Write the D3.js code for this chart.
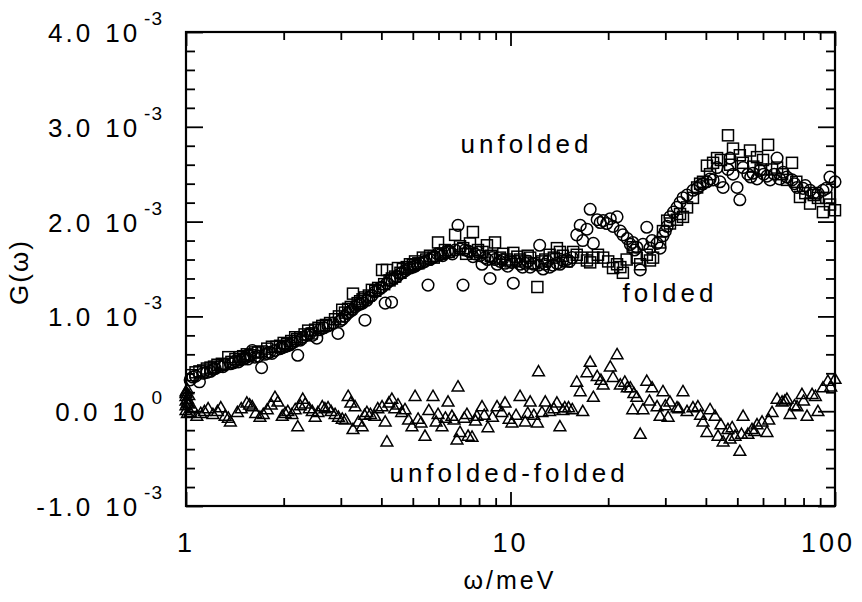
<!DOCTYPE html>
<html>
<head>
<meta charset="utf-8">
<script src="https://cdn.jsdelivr.net/npm/d3@7"></script>
<style>
  html, body { margin: 0; padding: 0; background: #fff; }
  svg { display: block; }
  text { font-family: "Liberation Sans", Arial, sans-serif; fill: #000; }
</style>
</head>
<body>
<svg id="chart" width="862" height="602"></svg>
<script>
// G(omega) values are in units of 1e-3
const unfoldedW = [1.03,1.05,1.10,1.13,1.19,1.23,1.27,1.32,1.37,1.42,1.47,1.52,1.57,1.60,1.63,1.71,1.75,1.81,1.88,1.95,2.02,2.09,2.17,2.21,2.29,2.41,2.53,2.59,2.74,2.94,2.98,3.09,3.20,3.32,3.44,3.56,3.61,3.74,3.91,4.02,4.11,4.16,4.25,4.30,4.47,4.57,4.73,4.90,5.08,5.26,5.45,5.57,5.65,5.85,6.06,6.28,6.51,6.75,6.89,7.14,7.24,7.50,7.77,8.05,8.17,8.34,8.65,8.96,9.28,9.62,10.1,10.2,10.7,11.1,11.5,12.2,12.3,12.8,13.2,13.9,14.5,15.5,16.0,16.4,17.6,18.0,18.9,19.3,20.3,20.7,21.3,21.8,22.2,22.9,23.8,24.5,25.1,25.6,26.3,27.3,28.3,28.9,29.5,30.4,31.0,32.6,34.0,35.0,36.5,37.6,38.4,40.3,42.1,43.3,44.2,45.2,46.8,47.5,49.9,50.9,52.1,53.9,55.9,57.5,58.7,61.7,63.1,66.3,69.2,71.1,73.7,76.4,79.7,83.8,88.6,91.8,96.5,100,
  1.07,1.16,1.21,1.30,1.40,1.45,1.50,1.55,1.67,1.78,1.84,1.98,2.05,2.13,2.25,2.36,2.45,2.66,2.84,3.03,3.14,3.26,3.38,3.50,3.66,3.83,3.96,4.36,4.62,4.80,5.00,5.17,5.37,5.75,5.95,6.18,6.40,6.62,6.99,7.40,7.66,7.94,8.50,8.80,9.10,9.45,9.80,10.4,10.9,11.3,11.8,12.6,13.0,13.5,14.2,14.9,15.2,16.7,17.2,18.5,19.8,23.4,24.1,26.9,30.0,31.8,33.3,39.2,41.2,48.5,55.0,60.3,65.0,67.5,75.0,81.0,86.0,94.0];
const unfoldedG = [0.33,0.36,0.31,0.40,0.42,0.45,0.47,0.49,0.50,0.53,0.54,0.56,0.58,0.64,0.57,0.46,0.60,0.62,0.64,0.66,0.68,0.70,0.74,0.59,0.78,0.82,0.77,0.86,0.90,0.82,0.95,1.00,1.05,1.10,1.13,0.96,1.17,1.22,1.28,1.31,1.14,1.35,1.38,1.15,1.42,1.45,1.48,1.51,1.53,1.56,1.58,1.33,1.60,1.63,1.65,1.67,1.68,1.70,1.96,1.33,1.70,1.68,1.66,1.64,1.55,1.62,1.40,1.60,1.58,1.56,1.57,1.35,1.55,1.56,1.52,1.54,1.75,1.55,1.52,1.56,1.59,1.62,1.86,1.96,2.13,1.77,1.99,2.01,2.03,1.95,2.05,1.90,1.86,1.82,1.78,1.73,1.49,1.76,1.94,1.80,1.77,1.72,1.85,1.95,2.05,2.15,2.25,2.28,2.33,2.35,2.38,2.42,2.44,2.57,2.42,2.36,2.55,2.67,2.36,2.23,2.57,2.50,2.51,2.45,2.54,2.48,2.44,2.67,2.52,2.47,2.44,2.36,2.35,2.33,2.30,2.33,2.47,2.42,
  0.37,0.41,0.44,0.47,0.51,0.52,0.55,0.55,0.58,0.61,0.61,0.67,0.69,0.72,0.75,0.80,0.80,0.88,0.93,0.97,1.03,1.07,1.12,1.14,1.20,1.26,1.30,1.40,1.46,1.50,1.52,1.55,1.57,1.62,1.66,1.64,1.69,1.66,1.71,1.69,1.63,1.68,1.60,1.62,1.55,1.60,1.53,1.58,1.52,1.58,1.55,1.50,1.58,1.54,1.55,1.60,1.58,1.80,1.92,2.02,1.98,1.76,1.70,1.72,1.90,2.10,2.20,2.40,2.45,2.50,2.47,2.50,2.50,2.45,2.40,2.38,2.30,2.35];

const foldedW = [1.04,1.07,1.13,1.19,1.25,1.35,1.42,1.47,1.54,1.63,1.71,1.84,1.95,2.05,2.17,2.25,2.38,2.50,2.63,2.78,2.88,3.03,3.16,3.27,3.44,3.56,3.74,3.91,4.02,4.16,4.31,4.50,4.66,4.90,5.08,5.37,5.65,5.98,6.28,6.75,6.99,7.50,7.66,7.94,8.46,8.96,9.28,9.75,10.2,10.7,11.1,11.5,12.1,12.8,13.2,13.9,14.5,15.6,16.0,17.2,18.0,19.3,20.7,21.3,22.2,23.8,25.1,26.9,27.5,28.9,30.4,32.6,34.0,36.5,37.6,39.2,40.3,42.1,43.3,46.8,48.5,50.9,54.7,57.5,60.0,62.2,66.3,71.1,73.7,78.0,83.8,88.6,91.8,96.5,100,
  1.10,1.16,1.22,1.29,1.38,1.50,1.58,1.67,1.78,1.90,2.00,2.11,2.20,2.32,2.44,2.56,2.70,2.96,3.09,3.22,3.38,3.50,3.66,3.83,4.08,4.24,4.41,4.58,4.79,5.00,5.20,5.50,5.80,6.10,6.45,7.15,7.30,8.20,8.70,9.50,10.0,10.5,11.3,11.8,12.5,13.6,14.2,14.9,16.5,17.6,18.6,20.0,21.8,22.8,24.5,26.3,29.5,31.0,33.3,35.0,38.4,41.2,44.5,47.5,52.0,56.0,59.0,64.0,68.7,76.0,81.0,86.0,94.0];
const foldedG = [0.38,0.41,0.43,0.46,0.49,0.57,0.55,0.57,0.60,0.62,0.63,0.68,0.69,0.71,0.78,0.78,0.85,0.86,0.90,0.93,0.97,1.07,1.08,1.24,1.16,1.20,1.28,1.30,1.49,1.49,1.40,1.51,1.50,1.55,1.58,1.62,1.64,1.78,1.70,1.86,1.74,1.77,1.89,1.70,1.75,1.78,1.62,1.60,1.67,1.60,1.58,1.62,1.31,1.60,1.65,1.72,1.64,1.68,1.65,1.59,1.62,1.62,1.51,1.55,1.46,1.73,1.55,1.59,1.62,1.78,2.01,2.02,2.05,2.25,2.36,2.42,2.59,2.62,2.67,2.91,2.77,2.70,2.75,2.68,2.65,2.81,2.57,2.44,2.62,2.26,2.19,2.25,2.10,2.18,2.12,
  0.42,0.45,0.47,0.50,0.52,0.58,0.59,0.62,0.66,0.68,0.72,0.74,0.76,0.81,0.82,0.88,0.91,1.00,1.04,1.10,1.14,1.18,1.22,1.27,1.34,1.38,1.42,1.46,1.52,1.54,1.56,1.60,1.62,1.66,1.68,1.72,1.66,1.68,1.64,1.66,1.58,1.63,1.64,1.56,1.58,1.62,1.68,1.58,1.62,1.57,1.65,1.58,1.52,1.60,1.62,1.65,1.90,1.98,2.08,2.15,2.40,2.50,2.65,2.60,2.62,2.58,2.55,2.55,2.50,2.42,2.30,2.28,2.25];

const diffW = [1.00,1.00,1.00,1.00,1.01,1.01,1.02,1.08,1.14,1.25,1.32,1.37,1.44,1.54,1.60,1.69,1.78,1.88,1.98,2.06,2.17,2.21,2.29,2.45,2.50,2.63,2.74,2.88,3.03,3.16,3.27,3.32,3.49,3.61,3.82,4.02,4.11,4.16,4.31,4.50,4.73,4.97,5.08,5.19,5.45,5.77,5.98,6.15,6.42,6.60,6.84,6.89,6.99,7.34,7.40,7.61,7.88,8.17,8.52,9.09,9.62,10.1,10.7,11.1,11.5,12.1,12.2,12.8,13.2,13.9,14.2,14.7,15.5,16.0,16.7,17.2,17.6,18.0,18.5,19.3,20.3,20.7,21.3,21.8,22.9,23.4,23.8,24.5,25.1,25.6,26.3,27.3,28.3,28.9,29.5,30.6,31.0,32.6,34.0,35.0,36.5,37.8,39.2,40.3,41.2,42.7,43.6,45.2,46.8,48.2,49.2,50.9,52.1,53.9,55.5,57.5,59.6,61.7,64.0,66.3,68.7,71.1,72.7,76.4,79.1,82.0,85.0,88.6,91.8,95.1,100,
  1.00,1.00,1.01,1.01,1.02,1.03,1.05,1.11,1.17,1.21,1.28,1.35,1.48,1.57,1.64,1.73,1.83,1.92,2.02,2.12,2.25,2.33,2.40,2.55,2.68,2.80,2.95,3.10,3.22,3.40,3.55,3.70,3.90,4.22,4.40,4.62,4.85,5.30,5.60,5.90,6.30,6.70,7.20,7.80,8.30,8.80,9.40,9.90,10.4,11.3,11.8,12.5,13.6,14.5,15.1,16.4,19.0,22.5,24.0,26.8,30.0,33.0,38.5,44.5,47.5,51.5,56.5,62.5,70.0,75.0,80.0,87.0,97.0];
const diffG = [0.15,0.10,0.05,0.00,-0.03,0.12,0.07,-0.06,-0.01,-0.01,-0.06,-0.12,-0.02,0.08,0.04,-0.07,0.01,0.14,-0.06,-0.01,0.01,-0.17,0.12,-0.01,-0.07,0.04,0.03,-0.04,-0.09,0.15,-0.20,0.04,-0.17,-0.02,-0.06,0.04,-0.12,-0.33,0.12,0.06,0.01,-0.17,0.15,-0.09,-0.27,0.15,-0.04,-0.17,0.09,-0.06,-0.31,0.25,-0.23,-0.04,-0.27,-0.28,-0.06,0.04,-0.18,0.04,0.08,-0.13,0.15,-0.12,0.09,-0.13,0.41,0.09,-0.01,0.08,-0.17,0.03,0.01,0.30,-0.01,0.40,0.51,0.14,0.36,0.27,0.46,0.35,0.59,0.27,0.24,0.24,0.01,0.14,-0.25,0.01,0.31,0.24,0.04,-0.06,0.20,-0.07,0.09,0.03,0.20,-0.01,0.03,0.04,-0.12,-0.23,0.01,-0.06,-0.27,-0.33,-0.20,-0.18,-0.27,-0.43,-0.06,-0.25,-0.20,-0.15,-0.12,-0.23,-0.02,0.12,0.09,0.12,-0.04,0.04,0.17,-0.06,0.17,-0.01,0.24,0.31,0.33,
  0.20,0.18,0.22,0.08,0.16,-0.02,0.02,-0.03,0.02,-0.04,0.03,-0.08,0.02,0.06,-0.03,-0.04,0.06,0.09,-0.03,-0.04,0.05,0.07,0.02,-0.02,0.02,-0.01,-0.07,-0.10,0.08,-0.12,-0.05,-0.04,0.02,0.08,0.02,-0.02,-0.10,-0.13,0.00,-0.12,-0.08,-0.10,-0.08,-0.11,-0.05,-0.07,-0.02,-0.09,-0.05,-0.03,-0.05,-0.02,0.02,0.00,0.03,0.20,0.32,0.30,0.18,0.10,0.05,0.02,-0.05,-0.15,-0.30,-0.25,-0.22,-0.10,0.10,0.05,0.10,0.15,0.25];

const yMajorTicks = [-1, 0, 1, 2, 3, 4];
const yTickMantissa = ["-1.0", "0.0", "1.0", "2.0", "3.0", "4.0"];
const yTickExponent = ["-3", "0", "-3", "-3", "-3", "-3"];
const xMajorTicks = [1, 10, 100];
const xTickLabels = ["1", "10", "100"];
const plotLabels = [
  {text: "unfolded", w: 11.2, g: 2.72},
  {text: "folded", w: 31, g: 1.15},
  {text: "unfolded-folded", w: 9.9, g: -0.75}
];

const svg = d3.select("#chart");
const L = 186, R = 835, T = 32, B = 506;
const x = d3.scaleLog().domain([1, 100]).range([L, R]);
const y = d3.scaleLinear().domain([-1, 4]).range([B, T]);

const xMinor = [];
[1, 10].forEach(d => { for (let k = 2; k <= 9; k++) xMinor.push(d * k); });
const yMinor = d3.range(-1, 4.0001, 0.2).filter(v => Math.abs(v - Math.round(v)) > 1e-6);

function addAxis(axisGen, tx, ty) {
  const g = svg.append("g").attr("transform", `translate(${tx},${ty})`).call(axisGen);
  g.select(".domain").remove();
  g.selectAll("text").remove();
  g.selectAll("line").attr("stroke", "#000").attr("stroke-width", 1.8);
}
addAxis(d3.axisBottom(x).tickValues(xMajorTicks).tickSize(-14), 0, B);
addAxis(d3.axisBottom(x).tickValues(xMinor).tickSize(-8), 0, B);
addAxis(d3.axisTop(x).tickValues(xMajorTicks).tickSize(-14), 0, T);
addAxis(d3.axisTop(x).tickValues(xMinor).tickSize(-8), 0, T);
addAxis(d3.axisLeft(y).tickValues(yMajorTicks).tickSize(-17), L, 0);
addAxis(d3.axisLeft(y).tickValues(yMinor).tickSize(-9), L, 0);
addAxis(d3.axisRight(y).tickValues(yMajorTicks).tickSize(-17), R, 0);
addAxis(d3.axisRight(y).tickValues(yMinor).tickSize(-9), R, 0);

svg.append("rect").attr("x", L).attr("y", T).attr("width", R - L).attr("height", B - T)
  .attr("fill", "none").attr("stroke", "#000").attr("stroke-width", 2.2);

// y tick labels
yMajorTicks.forEach((v, i) => {
  const t = svg.append("text").attr("x", 163).attr("y", y(v) + 10)
    .attr("text-anchor", "end").style("font-size", "26px").style("letter-spacing", "3px");
  t.append("tspan").text(yTickMantissa[i]);
  t.append("tspan").attr("dx", 12).text("10");
  t.append("tspan").attr("dx", 4).attr("dy", -17).style("font-size", "19px").style("letter-spacing", "1px").text(yTickExponent[i]);
});

// x tick labels
xMajorTicks.forEach((v, i) => {
  svg.append("text").attr("x", Math.min(x(v), 828)).attr("y", 552).attr("text-anchor", "middle")
    .style("font-size", "27px").style("letter-spacing", "3px").text(xTickLabels[i]);
});

// axis titles
svg.append("text").attr("x", 510).attr("y", 589).attr("text-anchor", "middle")
  .style("font-size", "25px").style("letter-spacing", "3px").text("ω/meV");
svg.append("text").attr("transform", "translate(28,272) rotate(-90)").attr("text-anchor", "middle")
  .style("font-size", "26px").style("letter-spacing", "2px").text("G(ω)");

const marks = svg.append("g");
const sw = 1.5;

// folded: squares
marks.selectAll("rect.sq").data(foldedW.map((w, i) => [w, foldedG[i]])).enter()
  .append("rect").attr("class", "sq")
  .attr("x", d => x(d[0]) - 5.5).attr("y", d => y(d[1]) - 5.5)
  .attr("width", 11).attr("height", 11)
  .attr("fill", "none").attr("stroke", "#000").attr("stroke-width", sw);

// unfolded: circles
marks.selectAll("circle.ci").data(unfoldedW.map((w, i) => [w, unfoldedG[i]])).enter()
  .append("circle").attr("class", "ci")
  .attr("cx", d => x(d[0])).attr("cy", d => y(d[1])).attr("r", 5.8)
  .attr("fill", "none").attr("stroke", "#000").attr("stroke-width", sw);

// difference: triangles
const tri = d3.symbol().type(d3.symbolTriangle).size(60);
marks.selectAll("path.tr").data(diffW.map((w, i) => [w, diffG[i]])).enter()
  .append("path").attr("class", "tr")
  .attr("transform", d => `translate(${x(d[0])},${y(d[1])})`)
  .attr("d", tri)
  .attr("fill", "none").attr("stroke", "#000").attr("stroke-width", sw);

// in-plot labels
plotLabels.forEach(l => {
  svg.append("text").attr("x", x(l.w)).attr("y", y(l.g)).attr("text-anchor", "middle")
    .style("font-size", "26px").style("letter-spacing", "4px").text(l.text);
});
</script>
</body>
</html>
